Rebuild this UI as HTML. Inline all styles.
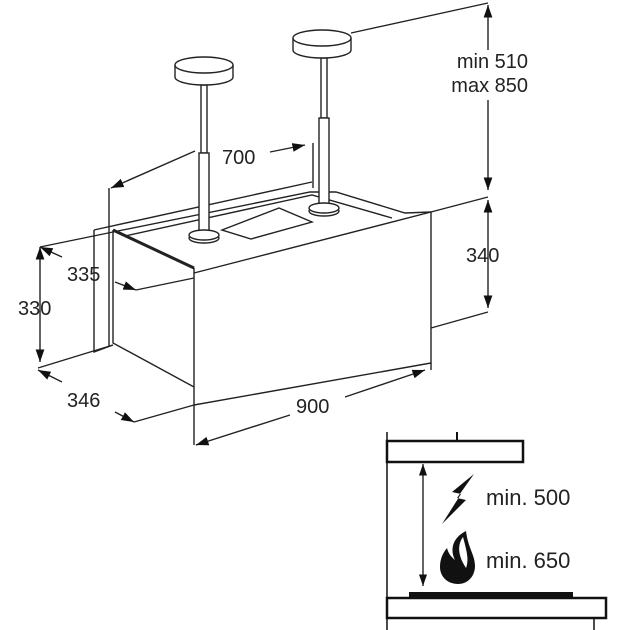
<!DOCTYPE html>
<html><head><style>body{margin:0;background:#fff}svg{display:block}text{font-family:"Liberation Sans",Arial,sans-serif;fill:#222}</style></head>
<body>
<svg width="630" height="630" viewBox="0 0 630 630" xmlns="http://www.w3.org/2000/svg">
<defs>
<marker id="a" viewBox="0 0 10 10" refX="10" refY="5" markerWidth="9" markerHeight="9" orient="auto-start-reverse"><path d="M0,1.5 L10,5 L0,8.5 Z" fill="#111"/></marker>
</defs>
<g stroke="#222" fill="none" stroke-width="1.4">
<path d="M94,230 L94,352 L113,345"/>
<path d="M94,230 L312,182"/>
<path d="M113,230 L113,343 L194,387"/>
<path d="M113,230 L194,268" stroke-width="3"/>
<path d="M113,232 L310,192 L336,192 L405,213 L431,212"/>
<path d="M125,236 L312,195 L392,218"/>
<path d="M194,273 L431,212 L431,363 L194,405 Z" fill="#fff"/>
<path d="M194,268 L194,273"/>
<path d="M222,230 L279,208 L312,222 L251,239 Z"/>
<rect x="201" y="85" width="6" height="68" fill="#fff"/>
<rect x="199" y="153" width="10" height="82" fill="#fff"/>
<ellipse cx="204" cy="238" rx="15" ry="5" fill="#fff"/>
<ellipse cx="204" cy="235" rx="15" ry="5" fill="#fff"/>
<rect x="321" y="58" width="6" height="60" fill="#fff"/>
<rect x="319" y="118" width="10" height="90" fill="#fff"/>
<ellipse cx="324" cy="211" rx="15" ry="5" fill="#fff"/>
<ellipse cx="324" cy="208" rx="15" ry="5" fill="#fff"/>
<path d="M175,65 L175,77 A29,8 0 0 0 233,77 L233,65" fill="#fff"/>
<ellipse cx="204" cy="65" rx="29" ry="8" fill="#fff"/>
<path d="M293,38 L293,50 A29,8 0 0 0 351,50 L351,38" fill="#fff"/>
<ellipse cx="322" cy="38" rx="29" ry="8" fill="#fff"/>
<path d="M351,33 L488,3"/>
<path d="M431,212 L488,197"/>
<path d="M431,328 L488,312"/>
<path d="M109,188 L109,347"/>
<path d="M313,143 L313,188"/>
<path d="M136,290 L194,278"/>
<path d="M40,247 L113,232"/>
<path d="M134,422 L194,405"/>
<path d="M38,368 L113,345"/>
<path d="M194,405 L194,445"/>
<path d="M431,363 L431,370"/>
<path d="M488,50 L488,5" marker-end="url(#a)"/>
<path d="M488,100 L488,190" marker-end="url(#a)"/>
<path d="M488,200 L488,308" marker-start="url(#a)" marker-end="url(#a)"/>
<path d="M195,151 L111,188" marker-end="url(#a)"/>
<path d="M270,152 L305,145" marker-end="url(#a)"/>
<path d="M40,247 L40,362" marker-start="url(#a)" marker-end="url(#a)"/>
<path d="M40,247 L62,257" marker-start="url(#a)"/>
<path d="M115,282 L136,290" marker-end="url(#a)"/>
<path d="M38,370 L62,382" marker-start="url(#a)"/>
<path d="M115,412 L134,422" marker-end="url(#a)"/>
<path d="M196,445 L290,415"/>
<path d="M196,445 L205,442" marker-start="url(#a)"/>
<path d="M345,397 L425,370" marker-end="url(#a)"/>
</g>
<g font-size="20">
<text x="528" y="68" text-anchor="end">min 510</text>
<text x="528" y="92" text-anchor="end">max 850</text>
<text x="466" y="262">340</text>
<text x="222" y="164">700</text>
<text x="67" y="281">335</text>
<text x="18" y="315">330</text>
<text x="67" y="407">346</text>
<text x="296" y="413">900</text>
</g>
<g stroke="#111" fill="none">
<path d="M387,432 L387,630" stroke-width="1.5"/>
<path d="M457,432 L457,440" stroke-width="2"/>
<rect x="387" y="441" width="136" height="21" stroke-width="2.5" fill="#fff"/>
<path d="M423,464 L423,586" stroke-width="1.3" marker-start="url(#a)" marker-end="url(#a)"/>
<rect x="409" y="592" width="164" height="5" fill="#111" stroke="none"/>
<rect x="387" y="598" width="219" height="20" stroke-width="2.5" fill="#fff"/>
<path d="M594,618 L594,630" stroke-width="1.5"/>
</g>
<path d="M474,474 L452,492 L461,494 L442,524 L466,500 L457,498 Z" fill="#111"/>
<path d="M466,531 C452,538 450,550 455,560 C450,556 448,552 447,548 C441,555 440,562 440,567 C440,577 448,584 458,584 C468,584 475,576 475,566 C475,555 468,548 466,531 Z" fill="#111"/>
<path d="M463,537 C457,545 458,556 466,568 C469,560 467,552 463,537 Z" fill="#fff"/>
<g font-size="22">
<text x="486" y="505">min. 500</text>
<text x="486" y="568">min. 650</text>
</g>
</svg>
</body></html>
